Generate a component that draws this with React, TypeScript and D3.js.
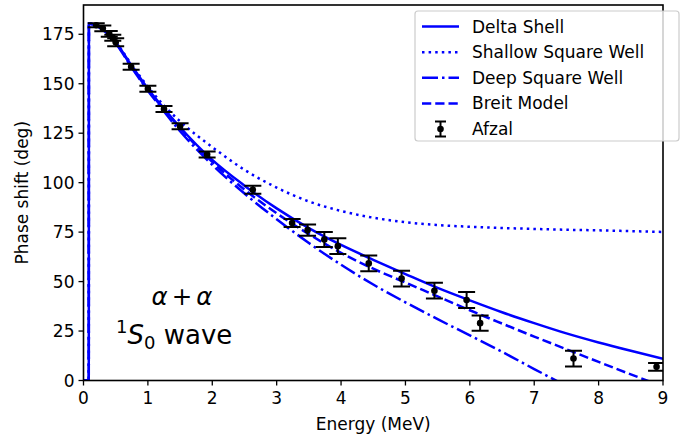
import React from "react";
import * as d3 from "d3";

const W = 689;
const H = 438;

// Energy (MeV), phase shift (deg)
const deltaShell: [number, number][] = [
  [0.0, 0], [0.082, 0], [0.084, 180.5], [0.15, 180], [0.3, 177.5], [0.5, 171], [0.75, 159],
  [1.0, 147.5], [1.25, 137.5], [1.5, 128], [2.0, 111.5], [2.5, 98.5], [3.0, 87],
  [3.5, 77], [4.0, 68.5], [4.5, 61], [5.0, 53.8], [5.5, 46.8], [6.0, 40.5],
  [6.5, 34.5], [7.0, 29], [7.5, 23.8], [8.0, 19.2], [8.5, 15], [9.0, 11],
];
const shallowWell: [number, number][] = [
  [0.0, 0], [0.082, 0], [0.084, 180.5], [0.15, 180], [0.3, 177.5], [0.5, 171.2], [0.75, 159.5],
  [1.0, 148.5], [1.25, 139], [1.5, 131], [2.0, 118], [2.5, 106.5], [3.0, 97.5],
  [3.5, 90.5], [4.0, 85.7], [4.5, 82.3], [5.0, 80], [5.5, 78.6], [6.0, 77.7],
  [6.5, 77.1], [7.0, 76.6], [7.5, 76.2], [8.0, 75.9], [8.5, 75.5], [9.0, 75.1],
];
const deepWell: [number, number][] = [
  [0.0, 0], [0.082, 0], [0.084, 180.5], [0.15, 180], [0.3, 177.3], [0.5, 170.5], [0.75, 158],
  [1.0, 146.5], [1.25, 136], [1.5, 126], [2.0, 109], [2.5, 94.5], [3.0, 81.5],
  [3.5, 69.5], [4.0, 58.5], [4.5, 48.5], [5.0, 39.5], [5.5, 31], [6.0, 22.8],
  [6.5, 14.5], [7.0, 5.8], [7.5, -2.8],
];
const breitModel: [number, number][] = [
  [0.0, 0], [0.082, 0], [0.084, 180.5], [0.15, 180], [0.3, 177.3], [0.5, 170.8], [0.75, 158.5],
  [1.0, 147], [1.25, 137], [1.5, 127.5], [2.0, 110.5], [2.5, 96.5], [3.0, 84.5],
  [3.5, 74], [4.0, 64.5], [4.5, 56.5], [5.0, 49.5], [5.5, 42.5], [6.0, 35.5],
  [6.5, 28.8], [7.0, 22.2], [7.5, 15.8], [8.0, 9.4], [8.5, 3.1], [9.0, -3],
];

// Afzal data: energy, phase, error
const afzalE = [0.198, 0.3, 0.4, 0.455, 0.5, 0.74, 1.0, 1.25, 1.5, 1.92, 2.63, 3.24, 3.48, 3.74, 3.95, 4.43, 4.94, 5.45, 5.95, 6.16, 7.61, 8.9];
const afzalPhase = [179.6, 178.0, 175.2, 173.2, 171.0, 158.6, 147.5, 137.2, 128.5, 114.2, 96.4, 79.6, 76.0, 71.3, 67.9, 59.2, 51.5, 45.4, 40.7, 29.0, 11.1, 6.9];
const afzalErr = [1.0, 1.5, 1.5, 1.5, 2.0, 1.5, 1.5, 1.5, 1.5, 1.5, 2.0, 2.0, 2.8, 3.8, 4.0, 4.0, 4.0, 4.0, 4.0, 3.9, 4.0, 2.0];

const xTicks = [0, 1, 2, 3, 4, 5, 6, 7, 8, 9];
const yTicks = [0, 25, 50, 75, 100, 125, 150, 175];

const seriesNames = ["Delta Shell", "Shallow Square Well", "Deep Square Well", "Breit Model"];
const seriesDash = ["", "2.5,4.1", "16,4,2.5,4", "9.25,4"];
const seriesData = [deltaShell, shallowWell, deepWell, breitModel];

const FONT = "'DejaVu Sans', sans-serif";
const BLUE = "#0000ff";
const FS = 17;

export default function App() {
  const left = 83.5, right = 663, top = 5, bottom = 380.5;
  const x = d3.scaleLinear().domain([0, 9]).range([left, right]);
  const y = d3.scaleLinear().domain([0, 189.8]).range([bottom, top]);
  const line = d3
    .line<[number, number]>()
    .x((d) => x(d[0]))
    .y((d) => y(d[1]))
    .curve(d3.curveMonotoneX);

  const legX = 415, legY = 11, legW = 264, legH = 130;
  const rowY = [26.5, 52.2, 77.8, 103.4, 129];

  return (
    <svg width={W} height={H} style={{ position: "absolute", left: 0, top: 0, background: "#fff" }} fontFamily={FONT}>
      <defs>
        <clipPath id="plotclip">
          <rect x={left} y={top} width={right - left} height={bottom - top} />
        </clipPath>
      </defs>
      <rect x={0} y={0} width={W} height={H} fill="#fff" />
      <g clipPath="url(#plotclip)">
        {seriesData.map((s, i) => (
          <path key={i} d={line(s) || ""} fill="none" stroke={BLUE} strokeWidth={2.5} strokeDasharray={seriesDash[i] || undefined} />
        ))}
        {afzalE.map((e, i) => {
          const cx = x(e);
          const y1 = y(afzalPhase[i] + afzalErr[i]);
          const y2 = y(afzalPhase[i] - afzalErr[i]);
          return (
            <g key={i} stroke="#000" strokeWidth={2}>
              <line x1={cx} x2={cx} y1={y1} y2={y2} />
              <line x1={cx - 8.5} x2={cx + 8.5} y1={y1} y2={y1} />
              <line x1={cx - 8.5} x2={cx + 8.5} y1={y2} y2={y2} />
              <circle cx={cx} cy={y(afzalPhase[i])} r={3.3} fill="#000" stroke="none" />
            </g>
          );
        })}
      </g>
      {/* frame */}
      <rect x={left} y={top} width={right - left} height={bottom - top} fill="none" stroke="#000" strokeWidth={1.6} />
      {/* x ticks */}
      {xTicks.map((t) => (
        <g key={t}>
          <line x1={x(t)} x2={x(t)} y1={bottom} y2={bottom + 5} stroke="#000" strokeWidth={1.3} />
          <text x={x(t)} y={bottom + 23} fontSize={FS} textAnchor="middle" fill="#000">{t}</text>
        </g>
      ))}
      {yTicks.map((t) => (
        <g key={t}>
          <line x1={left - 5} x2={left} y1={y(t)} y2={y(t)} stroke="#000" strokeWidth={1.3} />
          <text x={left - 9} y={y(t) + 6} fontSize={FS} textAnchor="end" fill="#000">{t}</text>
        </g>
      ))}
      <text x={(left + right) / 2} y={430} fontSize={FS} textAnchor="middle" fill="#000">Energy (MeV)</text>
      <text transform={`translate(28, ${(top + bottom) / 2}) rotate(-90)`} fontSize={FS} textAnchor="middle" fill="#000">Phase shift (deg)</text>

      {/* annotation */}
      <text x={182} y={305} fontSize={24.5} textAnchor="middle" fill="#000">
        <tspan fontStyle="italic">α</tspan>
        <tspan dx={4}>+</tspan>
        <tspan dx={4} fontStyle="italic">α</tspan>
      </text>
      <text x={116} y={344} fontSize={26} fill="#000">
        <tspan fontSize={18} dy={-11}>1</tspan>
        <tspan dy={11} fontStyle="italic">S</tspan>
        <tspan fontSize={18} dy={5}>0</tspan>
        <tspan dy={-5}> wave</tspan>
      </text>

      {/* legend */}
      <rect x={legX} y={legY} width={legW} height={legH} rx={3} fill="#fff" fillOpacity={0.8} stroke="#ccc" strokeWidth={1.2} />
      {seriesNames.map((n, i) => (
        <g key={n}>
          <line x1={422} x2={459} y1={rowY[i]} y2={rowY[i]} stroke={BLUE} strokeWidth={2.5} strokeDasharray={seriesDash[i] || undefined} />
          <text x={472} y={rowY[i] + 6} fontSize={FS} fill="#000">{n}</text>
        </g>
      ))}
      <g stroke="#000" strokeWidth={2}>
        <line x1={440.5} x2={440.5} y1={rowY[4] - 7.5} y2={rowY[4] + 7.5} />
        <line x1={435} x2={446} y1={rowY[4] - 7.5} y2={rowY[4] - 7.5} />
        <line x1={435} x2={446} y1={rowY[4] + 7.5} y2={rowY[4] + 7.5} />
        <circle cx={440.5} cy={rowY[4]} r={3.3} fill="#000" stroke="none" />
      </g>
      <text x={472} y={rowY[4] + 6} fontSize={FS} fill="#000">Afzal</text>
    </svg>
  );
}
